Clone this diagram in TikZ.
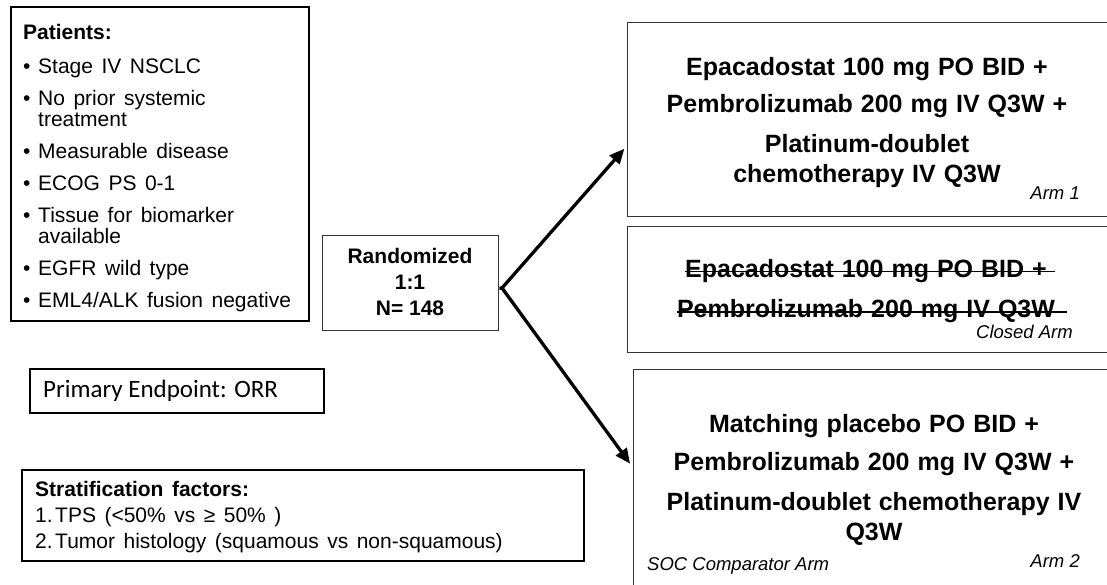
\documentclass[tikz,border=0pt]{standalone}
\usepackage{fontspec}
\setmainfont{Liberation Sans}
\newfontfamily\calibrifont{Carlito}
\usetikzlibrary{arrows.meta}

\newcommand{\bul}{\makebox[15pt][l]{\textbullet}}
\newcommand{\ind}{\hspace*{15pt}}
\newcommand{\numbox}[1]{\makebox[20pt][l]{#1}}
\newcommand{\widespaces}[1]{\spaceskip=#1\relax}

\begin{document}
\begin{tikzpicture}[x=1pt, y=-1pt,
    heavybox/.style={draw, line width=2.4pt, anchor=north west},
    lightbox/.style={draw=black!80, line width=1.4pt, anchor=north west},
    txt/.style={inner sep=0pt},
    armtxt/.style={inner sep=0pt, align=center, font=\bfseries\fontsize{25}{30}\selectfont\widespaces{8pt}},
    tag/.style={inner sep=0pt, font=\itshape\fontsize{18.5}{20}\selectfont},
    strikeout/.style={line width=1.8pt},
    branch/.style={line width=3.3pt, -{Triangle[length=15pt,width=13pt]}}]
  \useasboundingbox (0,0) rectangle (1107,585);
  \fill[white] (0,0) rectangle (1107,585);
  \clip (0,0) rectangle (1107,585);

  \node[heavybox, minimum width=298pt, minimum height=314pt] (patients) at (10,6) {};
  \node[lightbox, minimum width=176pt, minimum height=95pt] (rand) at (322,235) {};
  \node[heavybox, minimum width=294pt, minimum height=44pt] (endpoint) at (29,368) {};
  \node[heavybox, minimum width=562pt, minimum height=91pt] (strat) at (21,469) {};
  \node[lightbox, minimum width=481pt, minimum height=194pt] (arm1) at (627,22) {};
  \node[lightbox, minimum width=481pt, minimum height=126pt] (closed) at (627,226) {};
  \node[lightbox, minimum width=482pt, minimum height=219pt] (arm2) at (633,369) {};

  \node[txt, anchor=north west, align=left, font=\fontsize{21}{21}\selectfont\widespaces{8.5pt}] (patientslist) at (23,24)
    {\textbf{Patients:}\\[13pt]
     \bul Stage IV NSCLC\\[11pt]
     \bul No prior systemic\\
     \ind treatment\\[11pt]
     \bul Measurable disease\\[11pt]
     \bul ECOG PS 0-1\\[11pt]
     \bul Tissue for biomarker\\
     \ind available\\[11pt]
     \bul EGFR wild type\\[11pt]
     \bul EML4/ALK fusion negative};

  \node[txt, anchor=north, align=center, font=\bfseries\fontsize{21}{26}\selectfont] (randtext) at (410,248)
    {Randomized\\1:1\\N= 148};

  \node[txt, anchor=base west, font=\calibrifont\fontsize{25}{25}\selectfont] (endpointtext) at (43,397)
    {Primary Endpoint: ORR};

  \node[txt, anchor=north west, align=left, font=\fontsize{21}{26}\selectfont\widespaces{8.5pt}] (strattext) at (35,481)
    {\textbf{Stratification factors:}\\
     \numbox{1.}TPS (<50\% vs ≥ 50\% )\\
     \numbox{2.}Tumor histology (squamous vs non-squamous)};

  \node[armtxt, anchor=north] (arm1text) at (867,57)
    {Epacadostat 100 mg PO BID +\\[7pt]
     Pembrolizumab 200 mg IV Q3W +\\[10pt]
     Platinum-doublet\\
     chemotherapy IV Q3W};
  \node[tag, anchor=base east] (arm1tag) at (1080,200) {Arm 1};

  \node[armtxt, anchor=base] (closedA) at (866,277) {Epacadostat 100 mg PO BID +};
  \node[armtxt, anchor=base] (closedB) at (866,317) {Pembrolizumab 200 mg IV Q3W};
  \draw[strikeout] ([yshift=5.5pt]closedA.base west) -- ([xshift=8pt,yshift=5.5pt]closedA.base east);
  \draw[strikeout] ([yshift=5pt]closedB.base west) -- ([xshift=12pt,yshift=5pt]closedB.base east);
  \node[tag, anchor=base east] (closedtag) at (1073,338) {Closed Arm};

  \node[armtxt, anchor=north] (arm2text) at (874,414)
    {Matching placebo PO BID +\\[8pt]
     Pembrolizumab 200 mg IV Q3W +\\[10pt]
     Platinum-doublet chemotherapy IV\\
     Q3W};
  \node[tag, anchor=base west] (soctag) at (647,570) {SOC Comparator Arm};
  \node[tag, anchor=base east] (arm2tag) at (1080,567) {Arm 2};

  \coordinate (split) at (502,288);
  \draw[branch, shorten >=4pt] ([yshift=-5pt]rand.east) -- (split) -- ([yshift=-26pt]arm1.west);
  \draw[branch, shorten >=5pt] (split) -- ([yshift=11.5pt]arm2.west);
\end{tikzpicture}
\end{document}
